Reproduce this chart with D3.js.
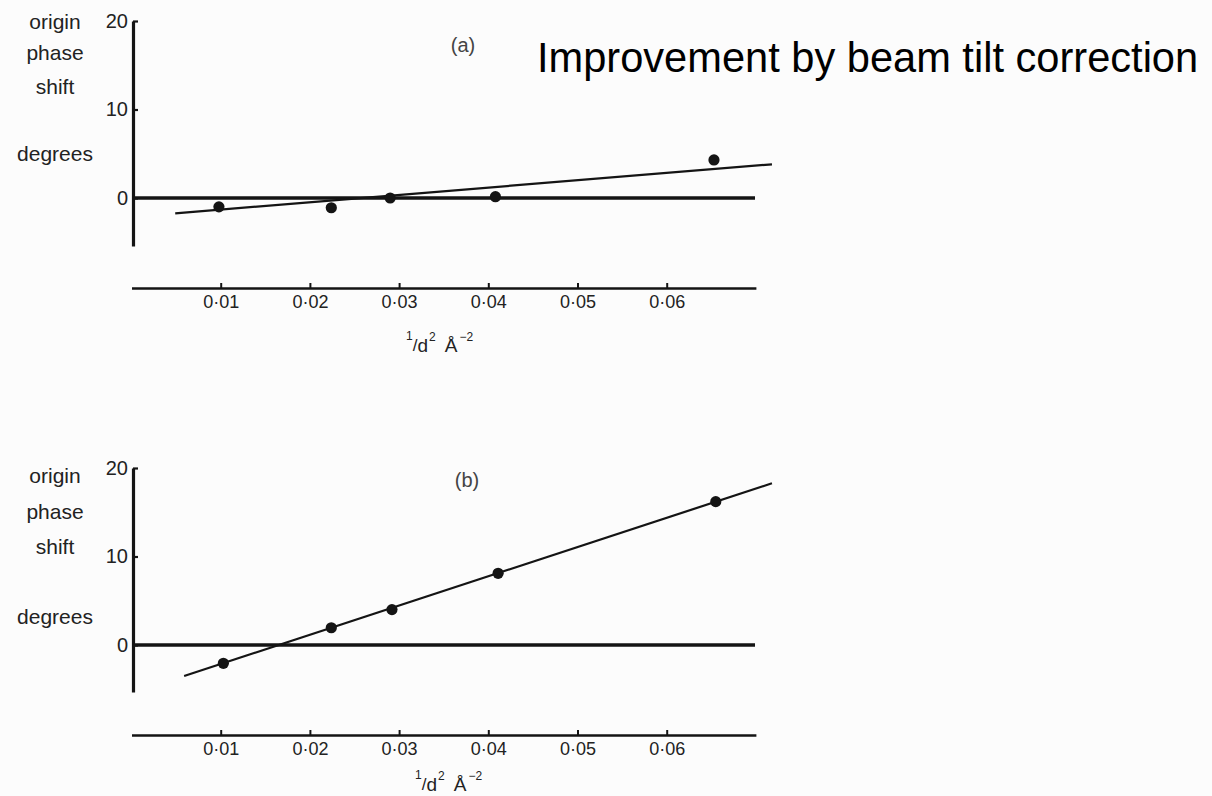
<!DOCTYPE html>
<html>
<head>
<meta charset="utf-8">
<script src="https://cdn.jsdelivr.net/npm/d3@7"></script>
<style>
  body { margin: 0; background: #fcfcfc; }
  svg { display: block; font-family: "Liberation Sans", Arial, sans-serif; }
</style>
</head>
<body>
<svg id="canvas" width="1212" height="796"></svg>
<script>
// values
let xTicks = [0.01, 0.02, 0.03, 0.04, 0.05, 0.06];
let yTicks = [0, 10, 20];

// (a) after beam tilt correction
let xA = [0.0098, 0.0224, 0.0290, 0.0408, 0.0653];
let yA = [-1.0, -1.1, 0.0, 0.15, 4.3];
let fitA = [[0.0049, -1.73], [0.0718, 3.81]];

// (b) before correction
let xB = [0.0103, 0.0224, 0.0292, 0.0411, 0.0655];
let yB = [-2.07, 1.95, 4.0, 8.1, 16.2];
let fitB = [[0.0059, -3.5], [0.0718, 18.27]];

let zeroEnd = 0.0699;
let yLabels = ['origin', 'phase', 'shift', 'degrees'];

let canvas = d3.select('#canvas');
let ink = '#141414';

// layout per panel
let panels = [
    {name: '(a)', xs: xA, ys: yA, fit: fitA, y0: 198, y20: 21, yBottom: 246, axisY: 288,
     labelY: [22, 53, 87, 154], tagX: 463, tagY: 52, unitX: 406, unitY: 352},
    {name: '(b)', xs: xB, ys: yB, fit: fitB, y0: 645, y20: 468, yBottom: 692, axisY: 735,
     labelY: [476, 512, 547, 617], tagX: 467, tagY: 487, unitX: 415, unitY: 791}
];

let x = d3.scaleLinear().domain([0, 0.07]).range([131.5, 131.5 + 624.4]);
let fmt = (d) => d3.format('.2f')(d).replace('.', '\u00b7');

let drawPanel = (p) => {
    let y = d3.scaleLinear().domain([0, 20]).range([p.y0, p.y20]);
    let g = canvas.append('g');

    // y axis
    let yAxis = d3.axisLeft(y.copy().domain([y.invert(p.yBottom), 20]).range([p.yBottom, p.y20]))
        .tickValues(yTicks)
        .tickSizeInner(-5)
        .tickSizeOuter(0)
        .tickPadding(5);
    let ya = g.append('g')
        .attr('transform', 'translate(133,0)')
        .call(yAxis);
    ya.select('.domain').attr('stroke', ink).attr('stroke-width', 3.2);
    ya.selectAll('.tick line').attr('stroke', ink).attr('stroke-width', 2.2);
    ya.selectAll('.tick text')
        .attr('font-size', 20)
        .attr('fill', '#222')
        .attr('font-family', '"Liberation Sans", Arial, sans-serif');

    // x axis (separate, below)
    let xAxis = d3.axisBottom(x)
        .tickValues(xTicks)
        .tickSizeInner(-5)
        .tickSizeOuter(0)
        .tickPadding(7)
        .tickFormat(fmt);
    let xa = g.append('g')
        .attr('transform', 'translate(0,' + p.axisY + ')')
        .call(xAxis);
    xa.select('.domain').attr('stroke', ink).attr('stroke-width', 2.6);
    xa.selectAll('.tick line').attr('stroke', ink).attr('stroke-width', 2);
    xa.selectAll('.tick text')
        .attr('font-size', 18)
        .attr('fill', '#222')
        .attr('font-family', '"Liberation Sans", Arial, sans-serif');

    // zero line
    g.append('line')
        .attr('x1', 133).attr('x2', x(zeroEnd))
        .attr('y1', y(0)).attr('y2', y(0))
        .attr('stroke', ink).attr('stroke-width', 3.4);

    // fitted line
    g.append('path')
        .datum(p.fit)
        .attr('d', d3.line().x((d) => x(d[0])).y((d) => y(d[1])))
        .attr('stroke', ink).attr('stroke-width', 2.2).attr('fill', 'none');

    // points
    g.selectAll('circle')
        .data(p.xs.map((d, i) => [d, p.ys[i]]))
        .enter()
        .append('circle')
        .attr('cx', (d) => x(d[0]))
        .attr('cy', (d) => y(d[1]))
        .attr('r', 5.6)
        .attr('fill', ink);

    // y label words
    g.selectAll('.ylab')
        .data(yLabels)
        .enter()
        .append('text')
        .attr('class', 'ylab')
        .attr('x', 55)
        .attr('y', (d, i) => p.labelY[i])
        .attr('dy', '0.32em')
        .attr('text-anchor', 'middle')
        .attr('font-size', 21)
        .attr('fill', '#222')
        .text((d) => d);

    // panel tag
    g.append('text')
        .attr('x', p.tagX).attr('y', p.tagY)
        .attr('text-anchor', 'middle')
        .attr('font-size', 20)
        .attr('fill', '#444')
        .text(p.name);

    // unit label  1/d^2  A^-2
    let u = g.append('text')
        .attr('x', p.unitX).attr('y', p.unitY)
        .attr('fill', '#222')
        .attr('font-size', 19);
    u.append('tspan').attr('font-size', 12).attr('y', p.unitY - 12).text('1');
    u.append('tspan').attr('font-size', 17).attr('y', p.unitY - 1).text('/');
    u.append('tspan').attr('y', p.unitY).text('d');
    u.append('tspan').attr('font-size', 12).attr('dx', 1).attr('y', p.unitY - 11).text('2');
    u.append('tspan').attr('dx', 9).attr('y', p.unitY).text('\u00c5');
    u.append('tspan').attr('font-size', 12).attr('dx', 2).attr('y', p.unitY - 11).text('\u22122');
};

panels.forEach(drawPanel);

// title
canvas.append('text')
    .attr('x', 537).attr('y', 72)
    .attr('font-size', 41.6)
    .attr('fill', '#000')
    .text('Improvement by beam tilt correction');
</script>
</body>
</html>
